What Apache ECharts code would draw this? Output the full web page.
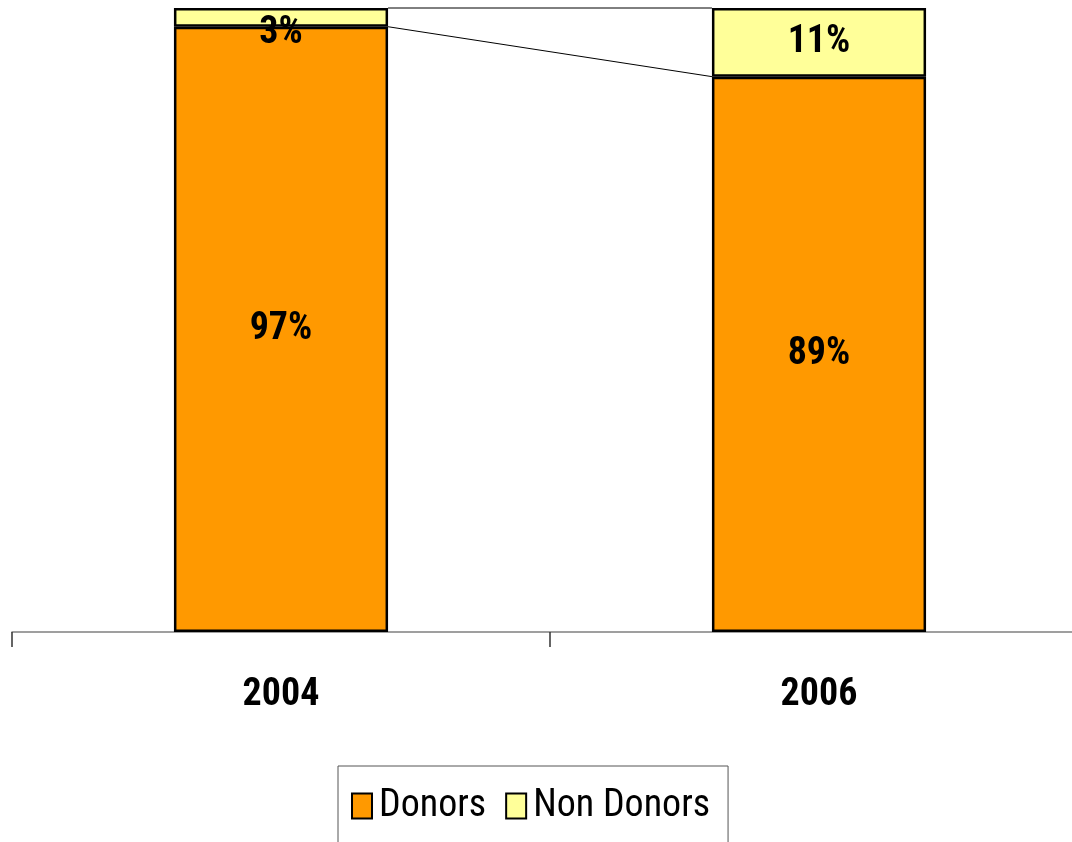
<!DOCTYPE html>
<html>
<head>
<meta charset="utf-8">
<script src="https://cdn.jsdelivr.net/npm/echarts@6/dist/echarts.min.js"></script>
<style>
  html, body { margin: 0; padding: 0; background: #ffffff; overflow: hidden; width: 1072px; height: 842px; }
  /* The plot runs past the right edge of the page, so the canvas is wider than the view */
  #chart { width: 1088px; height: 842px; }
</style>
</head>
<body>
<div id="chart"></div>
<script>
// Share of donors vs non donors per survey year (percent)
const years = ['2004', '2006'];
const donors = [97, 89];
const nonDonors = [3, 11];
const seriesNames = ['Donors', 'Non Donors'];

const FONT = "'Roboto Condensed', 'Liberation Sans Narrow', 'Arial Narrow', sans-serif";
const BAR_RATIO = 0.398; // bar width as a share of the category band

const chart = echarts.init(document.getElementById('chart'));

const labelStyle = {
  show: true,
  position: 'inside',
  formatter: '{c}%',
  fontFamily: FONT,
  fontWeight: 'bold',
  fontSize: 38,
  color: '#000'
};

// Small segments get their label nudged below the segment
function withLabel(values) {
  return values.map(v => v < 5
    ? { value: v, label: { offset: [0, 16] } }
    : v);
}

// Connector lines between stacked segment boundaries of neighbouring bars
const stacks = [donors, nonDonors];
const boundaries = [];
for (let i = 0; i < years.length - 1; i++) {
  let cumA = 0, cumB = 0;
  for (let s = 0; s < stacks.length; s++) {
    cumA += stacks[s][i];
    cumB += stacks[s][i + 1];
    boundaries.push([i, cumA, i + 1, cumB]);
  }
}

chart.setOption({
  backgroundColor: '#ffffff',
  animation: false,
  grid: { left: 12, right: 0, top: 8, bottom: 210, containLabel: false },
  xAxis: {
    type: 'category',
    data: years,
    boundaryGap: true,
    axisLine: { show: true, lineStyle: { color: '#808080', width: 1.5 } },
    axisTick: { show: true, alignWithLabel: false, length: 15, lineStyle: { color: '#333', width: 1.5 } },
    axisLabel: {
      margin: 44,
      fontFamily: FONT,
      fontWeight: 'bold',
      fontSize: 38,
      color: '#000'
    }
  },
  yAxis: {
    type: 'value',
    min: 0,
    max: 100,
    show: false,
    splitLine: { show: false }
  },
  legend: {
    data: seriesNames,
    left: 338,
    top: 766,
    orient: 'horizontal',
    icon: 'rect',
    padding: [21, 18, 40, 13],
    itemGap: 19,
    itemWidth: 20,
    itemHeight: 25,
    backgroundColor: '#fff',
    borderColor: '#555',
    borderWidth: 1,
    borderRadius: 0,
    textStyle: { fontFamily: FONT, fontSize: 38, color: '#000', padding: [0, 0, 0, 2] }
  },
  series: [
    {
      name: seriesNames[0],
      type: 'bar',
      stack: 'total',
      barWidth: (BAR_RATIO * 100) + '%',
      data: withLabel(donors),
      itemStyle: { color: '#FF9900', borderColor: '#000', borderWidth: 2.5 },
      label: labelStyle
    },
    {
      name: seriesNames[1],
      type: 'bar',
      stack: 'total',
      barWidth: (BAR_RATIO * 100) + '%',
      data: withLabel(nonDonors),
      itemStyle: { color: '#FFFF99', borderColor: '#000', borderWidth: 2.5 },
      label: labelStyle
    },
    {
      type: 'custom',
      silent: true,
      z: 1,
      data: boundaries,
      renderItem: function (params, api) {
        const half = api.size([1, 0])[0] * BAR_RATIO / 2;
        const a = api.coord([api.value(0), api.value(1)]);
        const b = api.coord([api.value(2), api.value(3)]);
        return {
          type: 'line',
          shape: { x1: a[0] + half, y1: a[1], x2: b[0] - half, y2: b[1] },
          style: { stroke: '#000', lineWidth: 1 }
        };
      }
    }
  ]
});
</script>
</body>
</html>
